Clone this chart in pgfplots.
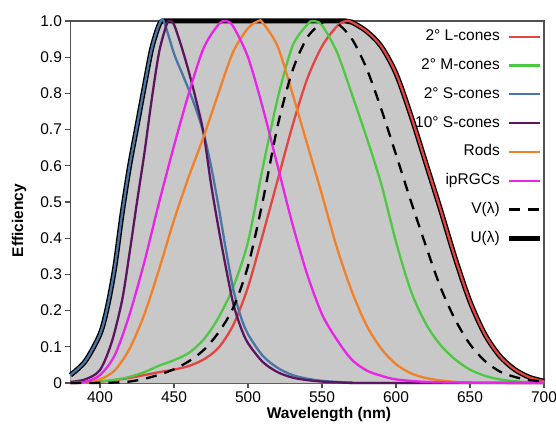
\documentclass[border=0pt]{standalone}
\usepackage{fontspec}
\setmainfont{Liberation Sans}
\usepackage{pgfplots}
\usepackage{pgfplotstable}
\pgfplotsset{compat=1.18}

\definecolor{lcone}{RGB}{228,68,66}
\definecolor{mcone}{RGB}{76,200,66}
\definecolor{scone}{RGB}{74,118,166}
\definecolor{sten}{RGB}{92,22,96}
\definecolor{rods}{RGB}{242,128,40}
\definecolor{iprgc}{RGB}{232,36,232}
\definecolor{fillgray}{RGB}{200,200,200}
\definecolor{axgray}{RGB}{80,80,80}

% 2 deg L-cones
\pgfplotstableread{
x y
380 0.001
390 0.002
400 0.004
410 0.008
420 0.014
430 0.022
440 0.030
450 0.037
460 0.047
470 0.065
480 0.097
490 0.160
500 0.265
510 0.410
520 0.560
530 0.710
540 0.840
550 0.930
560 0.985
566 1.000
570 0.997
580 0.972
590 0.930
600 0.855
610 0.740
620 0.610
630 0.480
640 0.345
650 0.225
660 0.135
670 0.075
680 0.038
690 0.016
700 0.005
}\Lcone

% 2 deg M-cones
\pgfplotstableread{
x y
380 0.000
390 0.001
400 0.004
410 0.009
420 0.017
430 0.030
440 0.048
450 0.063
460 0.083
470 0.120
480 0.180
490 0.265
500 0.390
510 0.595
520 0.785
530 0.930
540 0.990
544 1.000
550 0.988
560 0.915
570 0.800
580 0.680
590 0.550
600 0.390
610 0.255
620 0.165
630 0.105
640 0.065
650 0.037
660 0.020
670 0.010
680 0.005
690 0.002
700 0.001
}\Mcone

% 2 deg S-cones
\pgfplotstableread{
x y
380 0.022
390 0.060
400 0.135
405 0.210
410 0.320
415 0.470
420 0.600
425 0.710
430 0.820
435 0.925
440 0.990
443 1.000
450 0.910
455 0.860
460 0.810
465 0.755
470 0.690
475 0.600
480 0.490
485 0.370
490 0.260
495 0.185
500 0.135
510 0.075
520 0.042
530 0.022
540 0.012
550 0.006
560 0.003
570 0.001
580 0.000
700 0.000
}\Stwo

% 10 deg S-cones
\pgfplotstableread{
x y
380 0.003
390 0.010
400 0.036
408 0.114
415 0.230
420 0.360
425 0.500
430 0.635
435 0.785
440 0.915
445 0.990
447 1.000
450 0.990
455 0.930
460 0.860
465 0.780
470 0.690
475 0.550
480 0.430
485 0.320
490 0.220
495 0.155
500 0.110
510 0.058
520 0.030
530 0.015
540 0.008
550 0.004
560 0.002
580 0.000
700 0.000
}\Sten

% rods
\pgfplotstableread{
x y
380 0.000
390 0.002
400 0.010
410 0.035
420 0.095
430 0.190
440 0.315
450 0.450
460 0.570
470 0.680
480 0.800
490 0.915
500 0.980
507 1.000
510 0.995
520 0.930
530 0.800
540 0.660
550 0.520
560 0.375
570 0.255
580 0.160
590 0.095
600 0.052
610 0.027
620 0.014
630 0.007
640 0.003
650 0.001
700 0.000
}\Rods

% ipRGCs
\pgfplotstableread{
x y
380 0.000
390 0.003
400 0.022
410 0.077
420 0.190
430 0.335
440 0.500
450 0.655
460 0.800
470 0.925
480 0.990
485 1.000
490 0.985
500 0.900
510 0.760
520 0.600
530 0.440
540 0.300
550 0.190
560 0.120
570 0.065
580 0.035
590 0.020
600 0.010
620 0.003
650 0.001
700 0.000
}\Iprgc

% V(lambda)
\pgfplotstableread{
x y
380 0.00004
390 0.00012
400 0.0004
410 0.0012
420 0.004
430 0.0116
440 0.023
450 0.038
460 0.060
470 0.091
480 0.139
490 0.208
500 0.323
510 0.503
520 0.710
530 0.862
540 0.954
550 0.995
555 1.000
560 0.995
570 0.952
580 0.870
590 0.757
600 0.631
610 0.503
620 0.381
630 0.265
640 0.175
650 0.107
660 0.061
670 0.032
680 0.017
690 0.0082
700 0.0041
}\Vlam

% U(lambda), upper envelope
\pgfplotstableread{
x y
380 0.022
390 0.060
400 0.135
405 0.210
410 0.320
415 0.470
420 0.600
425 0.710
430 0.820
435 0.925
440 0.990
443 1.000
450 1.000
500 1.000
560 1.000
566 1.000
570 0.997
580 0.972
590 0.930
600 0.855
610 0.740
620 0.610
630 0.480
640 0.345
650 0.225
660 0.135
670 0.075
680 0.038
690 0.016
700 0.005
}\Ulam

\begin{document}
\begin{tikzpicture}[curve/.style={smooth, line width=2.3bp}]
\begin{axis}[
  name=main,
  width=473.6bp, height=362bp, scale only axis,
  xmin=380, xmax=700, ymin=0, ymax=1,
  xtick={400,450,500,550,600,650,700},
  ytick={0,0.1,0.2,0.3,0.4,0.5,0.6,0.7,0.8,0.9,1.0},
  yticklabels={0,0.1,0.2,0.3,0.4,0.5,0.6,0.7,0.8,0.9,1.0},
  tick align=outside, tick pos=left,
  major tick length=5bp,
  axis line style={axgray, line width=1.1bp},
  every tick/.style={axgray, line width=1.1bp},
  tick label style={font=\fontsize{15.5bp}{18bp}\selectfont},
  /pgf/number format/assume math mode=true,
  xlabel={\bfseries Wavelength (nm)},
  ylabel={\bfseries Efficiency},
  label style={font=\fontsize{15.5bp}{18bp}\selectfont},
  xlabel style={at={(axis description cs:0.546,-0.088)}, anchor=center},
  ylabel style={at={(axis description cs:-0.1085,0.449)}, anchor=center},
  clip=false,
  legend cell align=right,
  legend plot pos=right,
  legend image code/.code={\draw[#1] (0bp,0bp) -- (31bp,0bp);},
  legend style={at={(1,1)}, anchor=north east, xshift=-1bp, yshift=-9bp,
    draw=none, fill=none, inner sep=0pt, row sep=15.8bp, column sep=7bp,
    font=\fontsize{15.5bp}{18bp}\selectfont,
    nodes={inner sep=0pt, text height=10.5bp, text depth=2.5bp}},
]
\addplot[draw=none, fill=fillgray, forget plot, smooth] table {\Ulam} \closedcycle;
\addplot[black, smooth, line width=5bp, forget plot] table {\Ulam};

\addplot[curve, lcone] table {\Lcone};
\addlegendentry{2° L-cones}
\addplot[curve, mcone] table {\Mcone};
\addlegendentry{2° M-cones}
\addplot[curve, scone] table {\Stwo};
\addlegendentry{2° S-cones}
\addplot[curve, sten] table {\Sten};
\addlegendentry{10° S-cones}
\addplot[curve, rods] table {\Rods};
\addlegendentry{Rods}
\addplot[curve, iprgc] table {\Iprgc};
\addlegendentry{ipRGCs}
\addplot[curve, black, dash pattern=on 11bp off 8bp] table {\Vlam};
\addlegendentry{V(λ)}
\addlegendimage{black, line width=5bp}
\addlegendentry{U(λ)}
\end{axis}
\pgfresetboundingbox
\path ([xshift=-70.4bp,yshift=-43bp]main.south west) rectangle ([xshift=12bp,yshift=21bp]main.north east);
\end{tikzpicture}
\end{document}
